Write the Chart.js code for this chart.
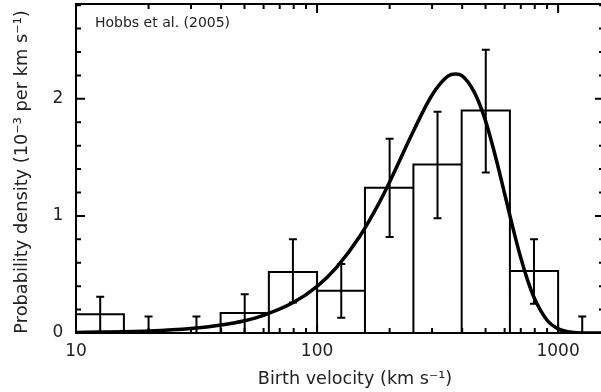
<!DOCTYPE html>
<html>
<head>
<meta charset="utf-8">
<script src="https://cdn.jsdelivr.net/npm/chart.js@4.4.0/dist/chart.umd.min.js"></script>
<style>
  html, body { margin: 0; padding: 0; background: #fff; overflow: hidden; }
  canvas { display: block; }
</style>
</head>
<body>
<canvas id="chart" width="606" height="392"></canvas>
<script>
// histogram bins (0.2 dex wide) in km/s
const binEdges = [10, 15.8, 25.1, 39.8, 63.1, 100, 158, 251, 398, 631, 1000, 1585];
const binCenters = [12.6, 20, 31.6, 50.1, 79.4, 126, 200, 316, 501, 794, 1259];
const binHeights = [0.16, 0, 0, 0.17, 0.52, 0.36, 1.24, 1.44, 1.90, 0.53, 0];
const errLow = [0, 0, 0, 0, 0.26, 0.13, 0.82, 0.98, 1.37, 0.25, 0];
const errHigh = [0.31, 0.14, 0.14, 0.33, 0.80, 0.59, 1.66, 1.89, 2.42, 0.80, 0.14];

// fitted curve
const curveVel = [10, 20, 30, 40, 50, 60, 80, 100, 120, 150, 180, 200, 250, 300, 350, 375, 400, 450, 500, 550, 600, 650, 700, 750, 800, 900, 1000, 1100, 1200, 1300, 1550];
const curveDens = [0.004, 0.017, 0.038, 0.068, 0.105, 0.151, 0.262, 0.399, 0.557, 0.822, 1.103, 1.290, 1.717, 2.033, 2.196, 2.212, 2.197, 2.053, 1.812, 1.505, 1.189, 0.894, 0.642, 0.441, 0.290, 0.109, 0.035, 0.010, 0.002, 0.0004, 0];

// axis ticks
const xTickLabels = [10, 100, 1000];
const xMinorTicks = [20, 30, 40, 50, 60, 70, 80, 90, 200, 300, 400, 500, 600, 700, 800, 900];
const yTickLabels = [0, 1, 2];
const yMinorTicks = [0.2, 0.4, 0.6, 0.8, 1.2, 1.4, 1.6, 1.8, 2.2, 2.4, 2.6, 2.8];

const FONT = '"DejaVu Sans", sans-serif';
const INK = '#222';

const histPoints = [];
binHeights.forEach((h, i) => {
    histPoints.push(
        { x: binEdges[i], y: 0 },
        { x: binEdges[i], y: h },
        { x: binEdges[i + 1], y: h },
        { x: binEdges[i + 1], y: 0 }
    );
});

const curvePoints = curveVel.map((v, i) => ({ x: v, y: curveDens[i] }));

const axesPlugin = {
    id: 'axesPlugin',
    afterDatasetsDraw(chart) {
        const { ctx, chartArea: a, scales: { x, y } } = chart;
        ctx.save();
        ctx.beginPath();
        ctx.rect(a.left, a.top, a.right - a.left, a.bottom - a.top);
        ctx.clip();
        // error bars
        ctx.strokeStyle = '#000';
        ctx.lineWidth = 2;
        binCenters.forEach((c, i) => {
            const px = x.getPixelForValue(c);
            const lo = y.getPixelForValue(errLow[i]);
            const hi = y.getPixelForValue(errHigh[i]);
            ctx.beginPath();
            ctx.moveTo(px, lo);
            ctx.lineTo(px, hi);
            ctx.moveTo(px - 4, hi);
            ctx.lineTo(px + 4, hi);
            ctx.moveTo(px - 4, lo);
            ctx.lineTo(px + 4, lo);
            ctx.stroke();
        });
        ctx.restore();
    },
    afterDraw(chart) {
        const { ctx, chartArea: a, scales: { x, y } } = chart;
        ctx.save();
        ctx.strokeStyle = '#000';
        ctx.lineWidth = 2;
        ctx.strokeRect(a.left, a.top, a.right - a.left, a.bottom - a.top);

        // ticks, pointing inward
        const xTick = (v, len) => {
            const px = x.getPixelForValue(v);
            ctx.moveTo(px, a.bottom); ctx.lineTo(px, a.bottom - len);
            ctx.moveTo(px, a.top); ctx.lineTo(px, a.top + len);
        };
        const yTick = (v, len) => {
            const py = y.getPixelForValue(v);
            ctx.moveTo(a.left, py); ctx.lineTo(a.left + len, py);
            ctx.moveTo(a.right, py); ctx.lineTo(a.right - len, py);
        };
        ctx.beginPath();
        xMinorTicks.forEach(v => xTick(v, 5));
        xTickLabels.forEach(v => xTick(v, 9));
        yMinorTicks.forEach(v => yTick(v, 5));
        yTickLabels.forEach(v => yTick(v, 9));
        ctx.stroke();

        // tick labels
        ctx.fillStyle = INK;
        ctx.font = '17px ' + FONT;
        ctx.textAlign = 'center';
        ctx.textBaseline = 'middle';
        xTickLabels.forEach(v => ctx.fillText(String(v), x.getPixelForValue(v), 352));
        yTickLabels.forEach(v => ctx.fillText(String(v), 58, y.getPixelForValue(v)));

        // axis titles
        ctx.font = '17.6px ' + FONT;
        ctx.fillText('Birth velocity (km s\u207B\u00B9)', 355, 379);
        ctx.save();
        ctx.translate(22, 172);
        ctx.rotate(-Math.PI / 2);
        ctx.font = '17.8px ' + FONT;
        ctx.fillText('Probability density (10\u207B\u00B3 per km s\u207B\u00B9)', 0, 0);
        ctx.restore();

        // annotation
        ctx.font = '14px ' + FONT;
        ctx.textAlign = 'left';
        ctx.fillText('Hobbs et al. (2005)', 95, 23);
        ctx.restore();
    }
};

new Chart(document.getElementById('chart').getContext('2d'), {
    type: 'line',
    data: {
        datasets: [
            {
                data: histPoints,
                borderColor: '#000',
                borderWidth: 2,
                pointRadius: 0,
                tension: 0,
                fill: false
            },
            {
                data: curvePoints,
                borderColor: '#000',
                borderWidth: 3.5,
                pointRadius: 0,
                cubicInterpolationMode: 'monotone',
                fill: false
            }
        ]
    },
    options: {
        responsive: false,
        animation: false,
        devicePixelRatio: 1,
        layout: { padding: { left: 76, top: 4, right: 2, bottom: 59 } },
        plugins: { legend: { display: false }, tooltip: { enabled: false } },
        scales: {
            x: { type: 'logarithmic', min: 10, max: 1550, display: false },
            y: { type: 'linear', min: 0, max: 2.81, display: false }
        }
    },
    plugins: [axesPlugin]
});
</script>
</body>
</html>
